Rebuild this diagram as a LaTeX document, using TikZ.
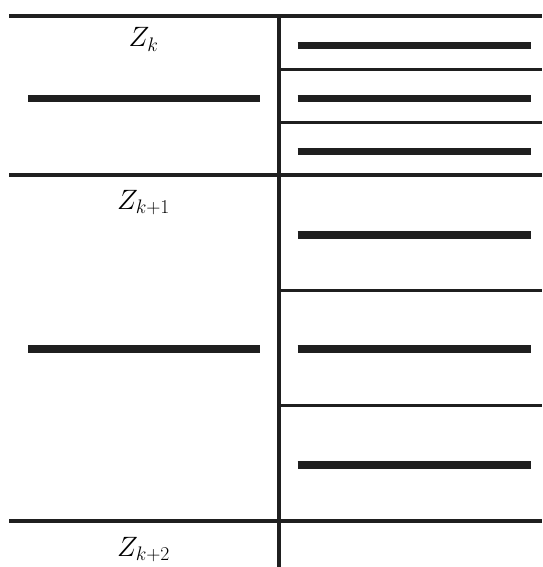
\RequirePackage{fix-cm}
\documentclass[tikz,border=0pt]{standalone}
\usetikzlibrary{positioning}

\begin{document}
\begin{tikzpicture}[
  x=1pt, y=-1pt,
  rule/.style={line width=4pt, color=black!88},
  split/.style={line width=3.3pt, color=black!88},
  bar/.style={line width=6.5pt, color=black!88},
  bigbar/.style={line width=8pt, color=black!88},
  zlabel/.style={font=\fontsize{28}{34}\selectfont, anchor=base},
]
\useasboundingbox (0,0) rectangle (542,567);

% full rules and the middle wall
\draw[rule] (9,15.7) -- (542,15.7);
\draw[rule] (9,175.3) -- (542,175.3);
\draw[rule] (9,520.5) -- (542,520.5);
\draw[rule] (279,15.7) -- (279,567);

% right-hand splits
\foreach \y in {69.3, 122.3, 290.8, 405.8}
  \draw[split] (279,\y) -- (542,\y);

% bars
\draw[bar] (28,98.7) -- (260,98.7);
\foreach \y in {45.7, 98.7, 151.7}
  \draw[bar] (297.5,\y) -- (531,\y);
\draw[bigbar] (28,349.3) -- (260,349.3);
\foreach \y in {234.5, 349.3, 465}
  \draw[bigbar] (297.5,\y) -- (531,\y);

\node[zlabel] (Zk)   at (143.5,47)    {$Z_k$};
\node[zlabel] (Zk1)  at (143.5,209.3) {$Z_{k+1}$};
\node[zlabel] (Zk2)  at (143.5,556.7) {$Z_{k+2}$};

\end{tikzpicture}
\end{document}
